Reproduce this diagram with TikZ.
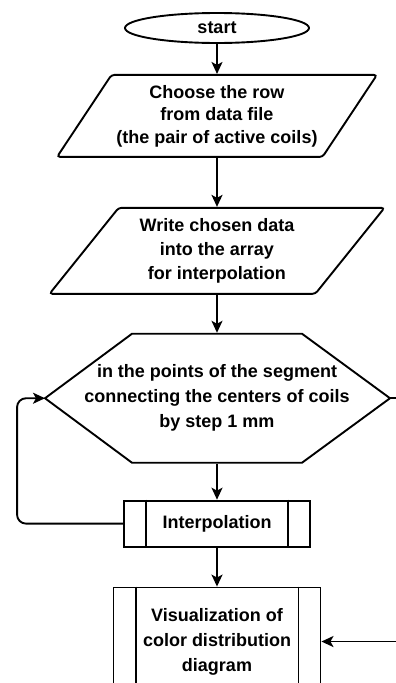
\documentclass[tikz,border=0pt]{standalone}
\usepackage{fontspec}
\setmainfont{Liberation Sans}
\usetikzlibrary{shapes,arrows.meta,positioning}

\begin{document}
\begin{tikzpicture}[
    x=1pt, y=1pt,
    node distance=30pt,
    line width=1.9pt,
    every node/.style={font=\fontsize{18}{24}\selectfont\bfseries, align=center},
    term/.style={ellipse, draw, minimum width=184pt, minimum height=30pt, inner sep=0pt},
    io/.style={trapezium, trapezium left angle=50, trapezium right angle=130, trapezium stretches=true, draw, rounded corners=3pt, inner sep=0pt},
    sub/.style={rectangle, draw, inner sep=0pt},
    arrow/.style={-{Stealth[length=12pt, width=11pt, inset=3pt]}}
]
    \useasboundingbox (0,0) rectangle (396,-683);
    \clip (0,0) rectangle (396,-683);

    \node[term] (start) at (217,-28) {start};
    \node[io, below=30pt of start, minimum width=320pt, minimum height=82pt, font=\fontsize{18}{22.5}\selectfont\bfseries] (row) {Choose the row\\from data file\\(the pair of active coils)};
    \node[io, below=49pt of row, minimum width=336pt, minimum height=86pt] (write) {Write chosen data\\into the array\\for interpolation};
    \node[below=38pt of write, minimum height=129pt, inner sep=0pt, font=\fontsize{18}{25}\selectfont\bfseries] (seg) {in the points of the segment\\connecting the centers of coils\\by step 1 mm};
    \node[sub, below=36pt of seg, minimum width=186pt, minimum height=46pt] (interp) {Interpolation};
    \node[sub, below=39pt of interp, minimum width=207pt, minimum height=108pt, font=\fontsize{18}{25}\selectfont\bfseries] (vis) {Visualization of\\color distribution\\diagram};

    % loop limit
    \draw ([shift={(-85,64.5)}]seg.center) -- ([shift={(85,64.5)}]seg.center)
        -- ([shift={(173,0)}]seg.center) coordinate (segE)
        -- ([shift={(85,-64.5)}]seg.center) -- ([shift={(-85,-64.5)}]seg.center)
        -- ([shift={(-172,0)}]seg.center) coordinate (segW) -- cycle;

    % side bars of the subprocess boxes
    \foreach \n/\d in {interp/23, vis/23} {
        \draw ([xshift=\d pt]\n.north west) -- ([xshift=\d pt]\n.south west);
        \draw ([xshift=-\d pt]\n.north east) -- ([xshift=-\d pt]\n.south east);
    }

    \coordinate (segOut) at ([xshift=30pt]segE);
    \coordinate (visIn) at ([xshift=100pt]vis.east);

    \draw[arrow] (start) -- (row);
    \draw[arrow] (row) -- (write);
    \draw[arrow] (write) -- (seg);
    \draw[arrow] (seg) -- (interp);
    \draw[arrow] (interp) -- (vis);
    \draw[arrow, rounded corners=9pt] (interp.west) -- ++(-106,0) |- (segW);
    \draw (segE) -- (segOut);
    \draw[arrow] (visIn) -- (vis.east);
\end{tikzpicture}
\end{document}
